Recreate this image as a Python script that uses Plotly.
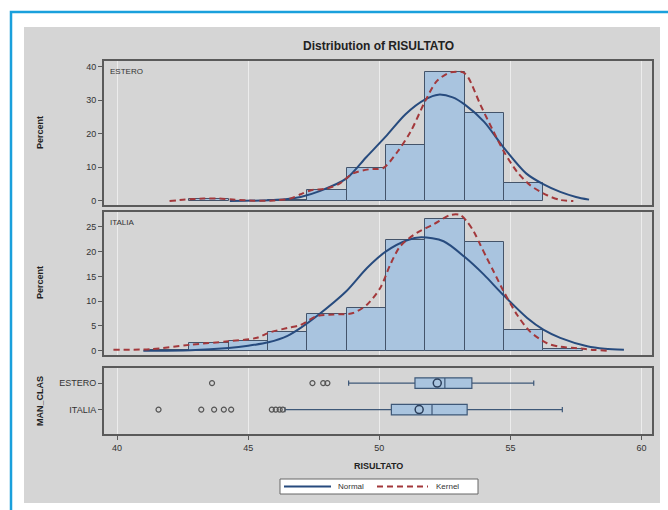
import plotly.graph_objects as go

W, H = 668, 510

# ---------------- data ----------------
bin_mid = [42.0, 43.5, 45.0, 46.5, 48.0, 49.5, 51.0, 52.5, 54.0, 55.5, 57.0]
estero_pct = [None, 0.7, None, 0.4, 3.4, 9.7, 16.6, 38.3, 26.0, 5.2, None]
italia_pct = [0.2, 1.55, 2.0, 3.8, 7.5, 8.6, 22.3, 26.5, 21.9, 4.25, 0.4]

normal_est_x = [44.3, 45.5, 46.5, 47.0, 47.75, 48.75, 49.5, 50.25, 51.0, 51.75, 52.25,
                52.8, 53.25, 54.0, 54.7, 55.6, 56.25, 56.9, 57.5, 58.0]
normal_est_y = [0.0, 0.15, 0.6, 1.2, 3.0, 6.7, 13.0, 19.2, 25.8, 30.2, 31.6,
                30.8, 28.7, 23.5, 16.3, 8.2, 5.0, 2.7, 1.2, 0.4]

kernel_est_x = [42.0, 42.6, 43.3, 43.9, 44.5, 45.2, 46.0, 46.6, 47.0, 47.4, 48.0, 48.5,
                49.0, 49.6, 50.15, 50.7, 51.2, 51.75, 52.2, 52.7, 53.2, 53.4, 53.85,
                54.35, 54.75, 55.25, 55.75, 56.4, 56.9, 57.4]
kernel_est_y = [0.0, 0.4, 0.7, 0.7, 0.35, 0.1, 0.15, 0.7, 2.0, 3.2, 3.7, 5.2,
                8.2, 9.4, 9.8, 14.7, 20.7, 29.7, 35.7, 38.2, 38.2, 36.6, 28.7,
                20.7, 14.7, 8.7, 4.7, 1.7, 0.3, 0.0]

normal_ita_x = [41.0, 42.8, 44.25, 45.0, 45.77, 46.5, 47.0, 47.62, 48.74, 49.53, 50.27,
                51.06, 51.6, 52.45, 53.26, 53.98, 54.7, 55.64, 56.27, 56.9, 57.93, 58.6, 59.33]
normal_ita_y = [0.0, 0.1, 0.55, 1.0, 1.7, 3.0, 4.6, 7.0, 12.0, 16.7, 20.1,
                22.3, 22.9, 22.1, 18.9, 15.4, 11.4, 6.6, 4.2, 2.6, 0.9, 0.4, 0.2]

kernel_ita_x = [39.86, 41.26, 42.8, 44.25, 45.34, 45.77, 46.5, 47.0, 47.62, 48.26, 49.0,
                49.53, 50.04, 50.42, 50.8, 51.43, 52.07, 52.71, 53.09, 53.34, 53.6, 53.85,
                54.1, 54.36, 54.74, 55.26, 55.76, 56.4, 56.9, 57.55, 58.2, 58.7]
kernel_ita_y = [0.2, 0.3, 1.2, 1.9, 2.6, 3.6, 4.6, 5.2, 7.0, 7.3, 7.6,
                9.3, 12.7, 17.4, 21.1, 23.8, 25.5, 27.4, 27.4, 26.1, 24.1, 21.4,
                18.7, 16.0, 12.0, 7.2, 3.8, 1.5, 0.8, 0.5, 0.15, 0.0]

groups = ["ESTERO", "ITALIA"]
box_q1 = [51.36, 50.46]
box_median = [52.5, 52.01]
box_q3 = [53.53, 53.35]
box_low = [48.83, 46.4]
box_high = [55.89, 56.98]
box_mean = [52.21, 51.52]
out_estero = [43.62, 47.45, 47.86, 48.02]
out_italia = [41.58, 43.21, 43.7, 44.07, 44.35, 45.9, 46.05, 46.2, 46.32]

x_ticks = [40, 45, 50, 55, 60]
legend_labels = ["Normal", "Kernel"]

# ---------------- styling ----------------
FONT = "Liberation Sans, Arial, sans-serif"
BAR_FILL = "#a9c4df"
BAR_LINE = "#44546a"
NORMAL_C = "#274b7e"
KERNEL_C = "#a3383b"
AX_C = "#5a5a5a"
GRID_C = "#ececec"
DASH = "6px,4px"


def px_x(p):
    return p / W


def px_y(p):
    return 1 - p / H


fig = go.Figure()

# histograms
fig.add_trace(go.Bar(x=bin_mid, y=estero_pct, width=1.5,
                     marker=dict(color=BAR_FILL, line=dict(color=BAR_LINE, width=1)),
                     showlegend=False, xaxis="x", yaxis="y"))
fig.add_trace(go.Bar(x=bin_mid, y=italia_pct, width=1.5,
                     marker=dict(color=BAR_FILL, line=dict(color=BAR_LINE, width=1)),
                     showlegend=False, xaxis="x2", yaxis="y2"))

# normal + kernel curves
fig.add_trace(go.Scatter(x=normal_est_x, y=normal_est_y, mode="lines", name=legend_labels[0],
                         line=dict(color=NORMAL_C, width=2, shape="spline", smoothing=0.8),
                         xaxis="x", yaxis="y", showlegend=False))
fig.add_trace(go.Scatter(x=kernel_est_x, y=kernel_est_y, mode="lines", name=legend_labels[1],
                         line=dict(color=KERNEL_C, width=2, dash=DASH, shape="spline", smoothing=0.8),
                         xaxis="x", yaxis="y", showlegend=False))
fig.add_trace(go.Scatter(x=normal_ita_x, y=normal_ita_y, mode="lines", name=legend_labels[0],
                         line=dict(color=NORMAL_C, width=2, shape="spline", smoothing=0.8),
                         xaxis="x2", yaxis="y2", showlegend=False))
fig.add_trace(go.Scatter(x=kernel_ita_x, y=kernel_ita_y, mode="lines", name=legend_labels[1],
                         line=dict(color=KERNEL_C, width=2, dash=DASH, shape="spline", smoothing=0.8),
                         xaxis="x2", yaxis="y2", showlegend=False))

# box plots
fig.add_trace(go.Box(y=groups, q1=box_q1, median=box_median, q3=box_q3,
                     lowerfence=box_low, upperfence=box_high, orientation="h",
                     fillcolor=BAR_FILL, line=dict(color="#3e5878", width=1.2),
                     width=0.4, whiskerwidth=0.5, showlegend=False,
                     xaxis="x3", yaxis="y3"))
fig.add_trace(go.Scatter(x=box_mean, y=groups, mode="markers",
                         marker=dict(symbol="circle-open", size=8, color="#2b3f5c", line=dict(width=1.5)),
                         showlegend=False, xaxis="x3", yaxis="y3"))
fig.add_trace(go.Scatter(x=out_estero, y=["ESTERO"] * len(out_estero), mode="markers",
                         marker=dict(symbol="circle-open", size=5, color="#555555", line=dict(width=1.2)),
                         showlegend=False, xaxis="x3", yaxis="y3"))
fig.add_trace(go.Scatter(x=out_italia, y=["ITALIA"] * len(out_italia), mode="markers",
                         marker=dict(symbol="circle-open", size=5, color="#555555", line=dict(width=1.2)),
                         showlegend=False, xaxis="x3", yaxis="y3"))

x_dom = [px_x(104), px_x(652)]
x_rng = [39.5, 60.4]
common_x = dict(range=x_rng, domain=x_dom, showgrid=True, gridcolor=GRID_C, gridwidth=1,
                tickvals=x_ticks, showline=True, linecolor=AX_C, linewidth=2, mirror=True,
                zeroline=False)
common_y = dict(showline=True, linecolor=AX_C, linewidth=2, mirror=True, zeroline=False,
                showgrid=False, ticks="outside", ticklen=4, tickcolor=AX_C,
                tickfont=dict(size=9, color="#333333", family=FONT))


def label(text, x, y, size=9, angle=0, xanchor="center", color="#222222"):
    return dict(text=text, xref="paper", yref="paper", x=px_x(x), y=px_y(y),
                xanchor=xanchor, yanchor="middle", textangle=angle, showarrow=False,
                font=dict(size=size, color=color, family=FONT))


# hand-drawn legend frame (SAS style)
leg_x0, leg_x1, leg_y0, leg_y1 = 280, 478, 479, 494
leg_mid = (leg_y0 + leg_y1) / 2

fig.update_layout(
    width=W, height=H, margin=dict(l=0, r=0, t=0, b=0),
    paper_bgcolor="white", plot_bgcolor="white",
    font=dict(family=FONT, color="#222222"),
    barmode="overlay", bargap=0, showlegend=False,
    xaxis=dict(**common_x, anchor="y", showticklabels=False, ticks=""),
    xaxis2=dict(**common_x, anchor="y2", showticklabels=False, ticks=""),
    xaxis3=dict(**common_x, anchor="y3", ticks="outside", ticklen=4, tickcolor=AX_C,
                tickfont=dict(size=9, color="#333333", family=FONT)),
    yaxis=dict(**common_y, domain=[px_y(205), px_y(61)], range=[-1.2, 41.6],
               tickvals=[0, 10, 20, 30, 40], anchor="x"),
    yaxis2=dict(**common_y, domain=[px_y(355), px_y(212)], range=[-0.87, 28.0],
                tickvals=[0, 5, 10, 15, 20, 25], anchor="x2"),
    yaxis3=dict(**common_y, domain=[px_y(434), px_y(368)], range=[-0.92, 1.57],
                type="category", categoryorder="array", categoryarray=["ITALIA", "ESTERO"],
                anchor="x3"),
    shapes=[
        dict(type="rect", xref="paper", yref="paper", x0=px_x(24), x1=px_x(660),
             y0=px_y(503), y1=px_y(27), fillcolor="#d5d5d5", line=dict(width=0), layer="below"),
        dict(type="rect", xref="paper", yref="paper", x0=px_x(11), x1=1.2,
             y0=-0.2, y1=px_y(12), line=dict(color="#1aa0dc", width=2.5), layer="above"),
        dict(type="rect", xref="paper", yref="paper", x0=px_x(leg_x0), x1=px_x(leg_x1),
             y0=px_y(leg_y1), y1=px_y(leg_y0), fillcolor="white",
             line=dict(color="#666666", width=1), layer="above"),
        dict(type="line", xref="paper", yref="paper", x0=px_x(284), x1=px_x(331),
             y0=px_y(leg_mid), y1=px_y(leg_mid), line=dict(color=NORMAL_C, width=2)),
        dict(type="line", xref="paper", yref="paper", x0=px_x(377), x1=px_x(428),
             y0=px_y(leg_mid), y1=px_y(leg_mid), line=dict(color=KERNEL_C, width=2, dash=DASH)),
    ],
    annotations=[
        label("<b>Distribution of RISULTATO</b>", 378, 46, size=12),
        label("ESTERO", 108, 72, size=8, xanchor="left", color="#333333"),
        label("ITALIA", 108, 222, size=8, xanchor="left", color="#333333"),
        label("<b>Percent</b>", 40, 133, angle=-90),
        label("<b>Percent</b>", 40, 283, angle=-90),
        label("<b>MAN_CLAS</b>", 40, 401, angle=-90),
        label("<b>RISULTATO</b>", 378, 466),
        label(legend_labels[0], 336, leg_mid, size=8, xanchor="left", color="#333333"),
        label(legend_labels[1], 434, leg_mid, size=8, xanchor="left", color="#333333"),
    ],
)

fig.write_html("out.html")
